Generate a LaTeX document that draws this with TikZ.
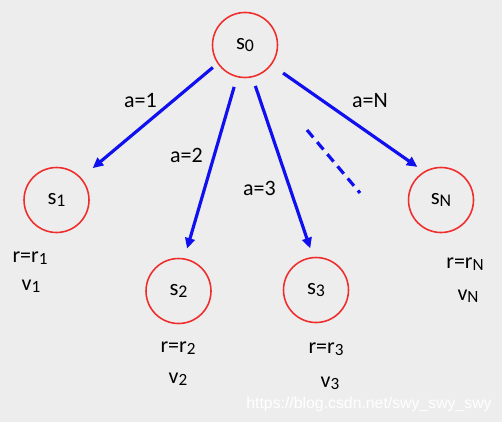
\documentclass[tikz,border=0pt]{standalone}
\usepackage{fontspec}
\setmainfont{Carlito}
\newfontfamily\marque{Liberation Sans}
\usetikzlibrary{arrows.meta}
\definecolor{fond}{RGB}{237,237,237}
\definecolor{rouge}{RGB}{240,45,45}
\definecolor{bleu}{RGB}{15,15,240}
\newcommand{\ind}[1]{\raisebox{-0.25ex}{\scalebox{0.78}{#1}}}
\newcommand{\etat}[3]{\node[etat] (#1) at (#2) {s\ind{#3}}}
\newcommand{\texte}[3]{\node[lab] (#1) at (#2) {#3}}
\newcommand{\action}[6]{\draw[fleche, shorten <=#5, shorten >=#6] (#1.#2) -- (#3.#4)}

\begin{document}
\begin{tikzpicture}[x=0.02cm, y=-0.02cm,
	etat/.style={circle, draw=rouge, line width=0.9pt, minimum size=1.3cm, inner sep=0pt, font=\fontsize{13}{14}\selectfont},
	lab/.style={anchor=base, inner sep=0pt, font=\fontsize{12.5}{14}\selectfont},
	fleche/.style={draw=bleu, line width=1.8pt, -{Triangle[length=6pt, width=5.5pt]}}]
%Background
	\fill[fond] (0,0) rectangle (502,422);
	\useasboundingbox (0,0) rectangle (502,422);
%The states
	\etat{s0}{245,45}{0};
	\etat{s1}{56.5,200}{1};
	\etat{s2}{178.5,291}{2};
	\etat{s3}{316,290}{3};
	\etat{sN}{441,200}{N};
%The actions
	\action{s0}{214.5}{s1}{42}{3.4pt}{8.5pt};
	\action{s0}{256.6}{s2}{80}{5.7pt}{5.7pt};
	\action{s0}{283.7}{s3}{95.4}{5.1pt}{5.1pt};
	\action{s0}{323.6}{sN}{121}{8pt}{4.5pt};
	\texte{a1}{140.5,108}{a=1};
	\texte{a2}{186.5,162}{a=2};
	\texte{a3}{259.5,195}{a=3};
	\texte{aN}{370,108}{a=N};
%Dots
	\coordinate (d1) at (307,130);
	\coordinate (d2) at (360,193);
	\draw[bleu, line width=1.8pt, dash pattern=on 5.5pt off 3.5pt] (d1) -- (d2);
%Rewards and values
	\texte{r1}{30,262}{r=r\ind{1}};
	\texte{v1}{31,290}{v\ind{1}};
	\texte{r2}{178,352}{r=r\ind{2}};
	\texte{v2}{178,383}{v\ind{2}};
	\texte{r3}{326,353}{r=r\ind{3}};
	\texte{v3}{330,387}{v\ind{3}};
	\texte{rN}{465,268}{r=r\ind{N}};
	\texte{vN}{468,300}{v\ind{N}};
%Watermark
	\node[anchor=base, inner sep=0pt, text=white, font=\marque\fontsize{9}{11}\selectfont] (wm) at (369,408) {https://blog.csdn.net/swy\_swy\_swy};
\end{tikzpicture}
\end{document}
